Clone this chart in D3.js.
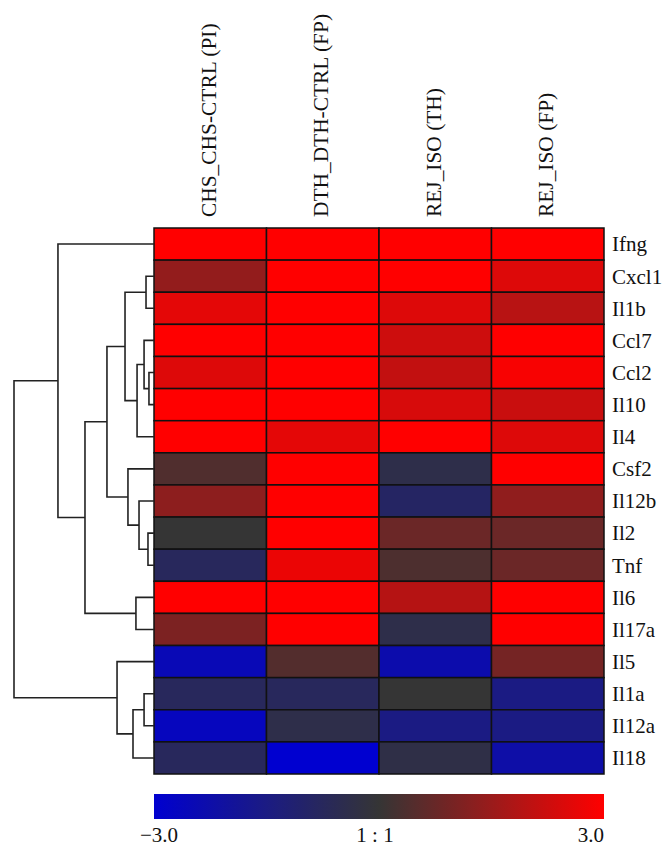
<!DOCTYPE html>
<html>
<head>
<meta charset="utf-8">
<script src="https://cdn.jsdelivr.net/npm/d3@7"></script>
<style>
  body { margin: 0; background: #fff; }
  text { font-family: "Liberation Serif", "Times New Roman", serif; fill: #111; }
</style>
</head>
<body>
<div id="heatmap"></div>
<script>
// column (comparison) labels
const columns = ['CHS_CHS-CTRL (PI)', 'DTH_DTH-CTRL (FP)', 'REJ_ISO (TH)', 'REJ_ISO (FP)'];

// gene rows, top to bottom (dendrogram order)
const genes = ['Ifng', 'Cxcl1', 'Il1b', 'Ccl7', 'Ccl2', 'Il10', 'Il4', 'Csf2', 'Il12b',
  'Il2', 'Tnf', 'Il6', 'Il17a', 'Il5', 'Il1a', 'Il12a', 'Il18'];

// log ratio per gene, one value per column
const values = [
  [3.0, 3.0, 3.0, 3.0],     // Ifng
  [1.4, 3.0, 3.0, 2.5],     // Cxcl1
  [2.6, 3.0, 2.5, 1.95],    // Il1b
  [3.0, 3.0, 2.25, 3.0],    // Ccl7
  [2.5, 3.0, 2.1, 2.9],     // Ccl2
  [3.0, 3.0, 2.4, 2.2],     // Il10
  [3.0, 2.6, 3.0, 2.5],     // Il4
  [0.4, 3.0, -0.4, 3.0],    // Csf2
  [1.3, 3.0, -0.9, 1.35],   // Il12b
  [0.0, 3.0, 0.8, 0.8],     // Il2
  [-0.75, 2.7, 0.35, 0.8],  // Tnf
  [3.0, 3.0, 1.9, 3.0],     // Il6
  [1.05, 3.0, -0.4, 3.0],   // Il17a
  [-2.5, 0.45, -2.3, 0.95], // Il5
  [-0.75, -0.75, 0.0, -1.5],// Il1a
  [-2.65, -0.4, -1.5, -1.5],// Il12a
  [-0.75, -3.0, -0.35, -2.2]// Il18
];

// hierarchical clustering merges: [left, right, height]
const merges = [
  ['Cxcl1', 'Il1b', 0.057],
  ['Ccl2', 'Il10', 0.036],
  ['Ccl7', 'm1', 0.071],
  ['m2', 'Il4', 0.121],
  ['m0', 'm3', 0.207],
  ['Il2', 'Tnf', 0.043],
  ['Il12b', 'm5', 0.107],
  ['Csf2', 'm6', 0.186],
  ['m4', 'm7', 0.336],
  ['Il6', 'Il17a', 0.129],
  ['m8', 'm9', 0.493],
  ['Ifng', 'm10', 0.686],
  ['Il1a', 'Il12a', 0.071],
  ['m12', 'Il18', 0.15],
  ['Il5', 'm13', 0.264],
  ['m11', 'm14', 1.0]
];

const legendTicks = [-3, 0, 3];
const legendLabels = ['\u22123.0', '1 : 1', '3.0'];

const width = 672, height = 855;
const grid = { left: 154, right: 604, top: 228, bottom: 774 };

const svg = d3.select('#heatmap').append('svg')
    .attr('width', width)
    .attr('height', height);

const x = d3.scaleBand().domain(columns).range([grid.left, grid.right]);
const y = d3.scaleBand().domain(genes).range([grid.top, grid.bottom]);

const colour = d3.scaleLinear()
    .domain([-3, 0, 3])
    .range(['#0000d0', '#353535', '#ff0000'])
    .clamp(true);

// cells
const cells = [];
genes.forEach((g, i) => columns.forEach((c, j) => cells.push({ gene: g, col: c, v: values[i][j] })));

svg.append('g').selectAll('rect')
    .data(cells)
    .join('rect')
    .attr('x', d => x(d.col))
    .attr('y', d => y(d.gene))
    .attr('width', x.bandwidth())
    .attr('height', y.bandwidth())
    .attr('fill', d => colour(d.v))
    .attr('stroke', '#111')
    .attr('stroke-width', 1.5);

// row labels
svg.append('g').selectAll('text')
    .data(genes)
    .join('text')
    .attr('x', grid.right + 8)
    .attr('y', d => y(d) + y.bandwidth() / 2)
    .attr('dy', '0.35em')
    .attr('font-size', 21)
    .text(d => d);

// column labels, rotated
svg.append('g').selectAll('text')
    .data(columns)
    .join('text')
    .attr('transform', d => `translate(${x(d) + x.bandwidth() / 2 - 2},${grid.top - 11}) rotate(-90)`)
    .attr('dy', '0.35em')
    .attr('text-anchor', 'start')
    .attr('font-size', 21.4)
    .text(d => d);

// dendrogram
const nodes = {};
genes.forEach(g => { nodes[g] = { name: g, h: 0, y: y(g) + y.bandwidth() / 2 }; });
merges.forEach((m, i) => {
  const a = nodes[m[0]], b = nodes[m[1]];
  nodes['m' + i] = { name: 'm' + i, h: m[2], y: (a.y + b.y) / 2, children: [a, b] };
});

const hx = d3.scaleLinear().domain([0, 1]).range([grid.left, 14]);

const links = [];
Object.values(nodes).forEach(n => {
  if (!n.children) return;
  const [a, b] = n.children;
  links.push(`M${hx(a.h)},${a.y}H${hx(n.h)}V${b.y}H${hx(b.h)}`);
});

svg.append('g').selectAll('path')
    .data(links)
    .join('path')
    .attr('d', d => d)
    .attr('fill', 'none')
    .attr('stroke', '#222')
    .attr('stroke-width', 1.6);

// colour legend
const legend = { top: 794, height: 25 };
const lx = d3.scaleLinear().domain([-3, 3]).range([grid.left, grid.right]);

const grad = svg.append('defs').append('linearGradient')
    .attr('id', 'legend-grad')
    .attr('x1', '0%').attr('x2', '100%');
grad.selectAll('stop')
    .data(d3.range(-3, 3.01, 0.5))
    .join('stop')
    .attr('offset', d => ((d + 3) / 6 * 100) + '%')
    .attr('stop-color', d => colour(d));

svg.append('rect')
    .attr('x', lx(-3))
    .attr('y', legend.top)
    .attr('width', lx(3) - lx(-3))
    .attr('height', legend.height)
    .attr('fill', 'url(#legend-grad)');

svg.append('g').selectAll('text')
    .data(legendTicks)
    .join('text')
    .attr('x', (d, i) => i === 0 ? lx(d) + 5 : (i === 2 ? lx(d) : lx(d) - 4))
    .attr('y', 842)
    .attr('text-anchor', (d, i) => i === 2 ? 'end' : 'middle')
    .attr('font-size', 21)
    .text((d, i) => legendLabels[i]);
</script>
</body>
</html>
